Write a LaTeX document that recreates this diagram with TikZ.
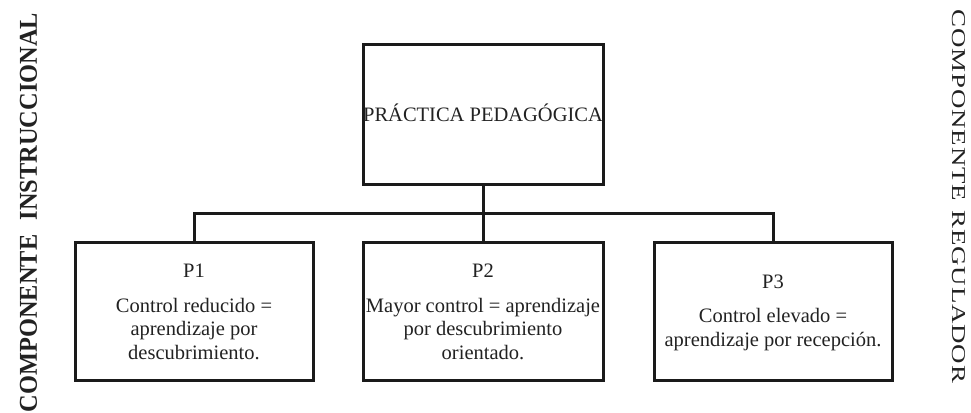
\documentclass[tikz,border=0pt]{standalone}
\usepackage{fontspec}
\setmainfont{Liberation Serif}
\usepackage{graphicx}
\definecolor{ink}{HTML}{1A1A1A}
\definecolor{txt}{HTML}{222222}
\begin{document}
\begin{tikzpicture}[x=1pt,y=-1pt,
  panel/.style={draw=ink, line width=3pt, inner sep=0pt, fill=white},
  wire/.style={draw=ink, line width=3pt, line cap=rect},
  label/.style={text=txt, inner sep=0pt, anchor=base, align=center,
    font=\fontsize{20.5}{23.5}\selectfont}]
\useasboundingbox[fill=white] (0,0) rectangle (971,412);

% boxes
\node[panel, minimum width=240pt, minimum height=139pt] (top) at (483,114.5) {};
\node[panel, minimum width=238pt, minimum height=138pt] (p1) at (194,311) {};
\node[panel, minimum width=240pt, minimum height=138pt] (p2) at (483,311) {};
\node[panel, minimum width=238pt, minimum height=138pt] (p3) at (773,311) {};

% tree connectors
\coordinate (bus) at (483,213);
\draw[wire] (top.south) -- (p2.north);
\draw[wire] (p1.north) |- (bus) -| (p3.north);

% box texts
\node[label] (ttl) at (483,121) {PRÁCTICA PEDAGÓGICA};

\node[label] (h1) at (194,277) {P1};
\node[label] (a1) at (194,312) {Control reducido =};
\node[label] (b1) at (194,335.5) {aprendizaje por};
\node[label] (c1) at (194,359) {descubrimiento.};

\node[label] (h2) at (483,277) {P2};
\node[label] (a2) at (483,312) {Mayor control = aprendizaje};
\node[label] (b2) at (483,335.5) {por descubrimiento};
\node[label] (c2) at (483,359) {orientado.};

\node[label] (h3) at (773,288) {P3};
\node[label] (a3) at (773,322) {Control elevado =};
\node[label] (b3) at (773,346) {aprendizaje por recepción.};

% side captions
\node[inner sep=0pt, rotate=90, text=txt] (left) at (28.5,212.5)
  {\resizebox{399pt}{17pt}{\bfseries COMPONENTE\hspace{0.6em}INSTRUCCIONAL}};
\node[inner sep=0pt, rotate=-90, text=txt] (right) at (958.5,196.5)
  {\resizebox{373pt}{13pt}{\addfontfeature{LetterSpace=3}COMPONENTE\hspace{0.35em}REGULADOR}};
\end{tikzpicture}
\end{document}
